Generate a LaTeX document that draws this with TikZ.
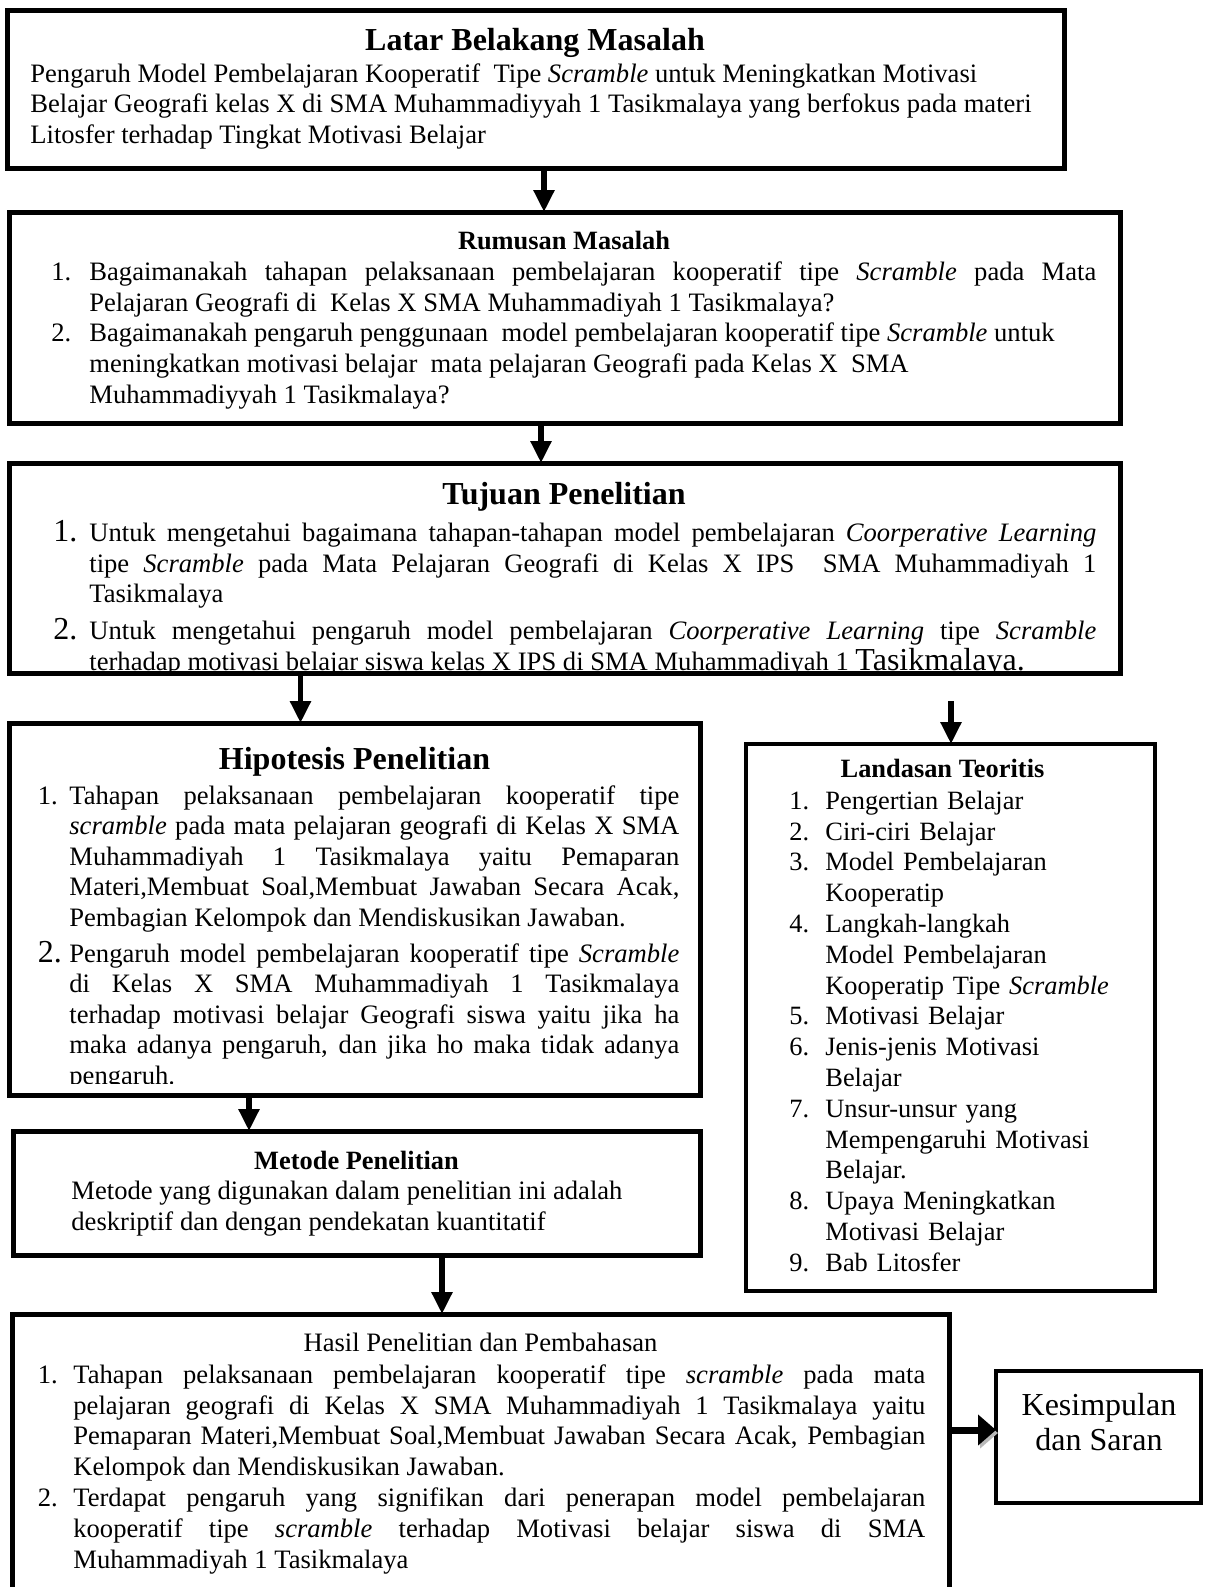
\documentclass[tikz,border=0pt]{standalone}
\usepackage{fontspec}
\setmainfont{Liberation Serif}
\usepackage{enumitem}
\usetikzlibrary{arrows.meta,fit,positioning}
\setlist[enumerate]{label=\arabic*., topsep=0pt, partopsep=0pt, itemsep=0pt, parsep=0pt, align=left, labelsep=0pt}
\newcommand{\bignum}[1]{{\fontsize{16}{15.4}\selectfont #1}}
\tikzset{
	box/.style={draw, line width=2.5pt, fill=white, inner sep=0pt, outer sep=0pt},
	thinbox/.style={box, line width=2pt},
	body/.style={inner sep=0pt, font=\fontsize{13.3}{15.4}\selectfont},
	listbody/.style={body, align=justify, anchor=north west},
	head/.style={inner sep=0pt, font=\fontsize{13.2}{15.4}\selectfont\bfseries},
	bighead/.style={inner sep=0pt, font=\fontsize{16}{18}\selectfont\bfseries},
	flow/.style={line width=2.8pt, -{Triangle[width=10pt,length=11pt]}},
	sideflow/.style={line width=3.5pt, -{Triangle[width=15pt,length=9pt]},
		preaction={draw=gray!55, transform canvas={shift={(1pt,-1.5pt)}}}}
}
\begin{document}
\begin{tikzpicture}[x=0.5pt, y=-0.5pt]
	\useasboundingbox (0,0) rectangle (1205,1587);

	\node[box, fit={(7,10) (1064,168)}] (latar) {};
	\node[box, fit={(9,212) (1120,423)}] (rumusan) {};
	\node[box, fit={(9,463) (1120,673)}] (tujuan) {};
	\node[box, fit={(9,723) (700,1095)}] (hipotesis) {};
	\node[box, fit={(13,1131) (700,1255)}] (metode) {};
	\node[thinbox, fit={(746,744) (1155,1291)}] (landasan) {};
	\node[box, fit={(12,1314) (949,1620)}] (hasil) {};
	\node[thinbox, fit={(996,1371) (1201,1503)}] (kesimpulan) {};

	\node[bighead, anchor=base] (latarhead) at (535,50) {Latar Belakang Masalah};
	\node[body, align=left, anchor=north west] (latartext) at (30,63) {Pengaruh Model Pembelajaran Kooperatif~ Tipe \emph{Scramble} untuk Meningkatkan Motivasi\\
		Belajar Geografi kelas X di SMA Muhammadiyyah 1 Tasikmalaya yang berfokus pada materi\\
		Litosfer terhadap Tingkat Motivasi Belajar};

	\node[head, anchor=base] (rumusanhead) at (564,249) {Rumusan Masalah};
	\node[listbody, text width=522.5pt] (rumusanlist) at (51,249) {%
		\begin{enumerate}[leftmargin=19pt, labelwidth=19pt]
			\item Bagaimanakah tahapan pelaksanaan pembelajaran kooperatif tipe \emph{Scramble} pada Mata\linebreak
			Pelajaran Geografi di~ Kelas X SMA Muhammadiyah 1 Tasikmalaya?
			\item Bagaimanakah pengaruh penggunaan~ model pembelajaran kooperatif tipe \emph{Scramble} untuk\\
			meningkatkan motivasi belajar~ mata pelajaran Geografi pada Kelas X~ SMA\\
			Muhammadiyyah 1 Tasikmalaya?
		\end{enumerate}};

	\node[bighead, anchor=base] (tujuanhead) at (564,504) {Tujuan Penelitian};
	\coordinate (tujuancut) at (0,671);
	\begin{scope}
		\clip (tujuan.north west) rectangle (tujuan.east |- tujuancut);
		\node[listbody, text width=521.5pt] (tujuanlist) at (53,510) {%
			\begin{enumerate}[label=\bignum{\arabic*.}, leftmargin=18pt, labelwidth=18pt, itemsep=3pt]
				\item Untuk mengetahui bagaimana tahapan-tahapan model pembelajaran \emph{Coorperative Learning}\linebreak
				tipe \emph{Scramble} pada Mata Pelajaran Geografi di Kelas X IPS~ SMA Muhammadiyah 1\linebreak
				Tasikmalaya
				\item Untuk mengetahui pengaruh model pembelajaran \emph{Coorperative Learning} tipe \emph{Scramble}\linebreak
				\rule{0pt}{12.1pt}terhadap motivasi belajar siswa kelas X IPS di SMA Muhammadiyah 1 {\fontsize{16}{15.4}\selectfont Tasikmalaya.}
			\end{enumerate}};
	\end{scope}

	\node[bighead, anchor=base] (hipotesishead) at (354.5,769) {Hipotesis Penelitian};
	\coordinate (hipotesiscut) at (0,1083);
	\begin{scope}
		\clip (hipotesis.north west) rectangle (hipotesis.east |- hipotesiscut);
		\node[listbody, font=\fontsize{13.3}{15.3}\selectfont, text width=320.75pt] (hipotesislist) at (37.5,773) {%
			\begin{enumerate}[leftmargin=15.75pt, labelwidth=15.75pt, itemsep=2.5pt]
				\item Tahapan pelaksanaan pembelajaran kooperatif tipe\linebreak
				\emph{scramble} pada mata pelajaran geografi di Kelas X SMA\linebreak
				Muhammadiyah 1 Tasikmalaya yaitu Pemaparan\linebreak
				Materi,Membuat Soal,Membuat Jawaban Secara Acak,\linebreak
				Pembagian Kelompok dan Mendiskusikan Jawaban.
				\item[\bignum{2.}] Pengaruh model pembelajaran kooperatif tipe \emph{Scramble}\linebreak
				di Kelas X SMA Muhammadiyah 1 Tasikmalaya\linebreak
				terhadap motivasi belajar Geografi siswa yaitu jika ha\linebreak
				maka adanya pengaruh, dan jika ho maka tidak adanya\linebreak
				pengaruh.
			\end{enumerate}};
	\end{scope}

	\node[head, anchor=base] (metodehead) at (356.5,1169.5) {Metode Penelitian};
	\node[body, align=left, anchor=north west] (metodetext) at (71,1181) {Metode yang digunakan dalam penelitian ini adalah\\
		deskriptif dan dengan pendekatan kuantitatif};

	\node[head, anchor=base] (landasanhead) at (942.5,777) {Landasan Teoritis};
	\node[body, font=\fontsize{13.2}{15.4}\selectfont, text width=175pt, anchor=north west] (landasanlist) at (789,778) {%
		\begin{enumerate}[leftmargin=18pt, labelwidth=18pt]
			\item Pengertian Belajar
			\item Ciri-ciri Belajar
			\item Model Pembelajaran\\ Kooperatip
			\item Langkah-langkah\\ Model Pembelajaran\\ Kooperatip Tipe \emph{Scramble}
			\item Motivasi Belajar
			\item Jenis-jenis Motivasi\\ Belajar
			\item Unsur-unsur yang\\ Mempengaruhi Motivasi\\ Belajar.
			\item Upaya Meningkatkan\\ Motivasi Belajar
			\item Bab Litosfer
		\end{enumerate}};

	\node[body, anchor=base] (hasilhead) at (480.5,1351) {Hasil Penelitian dan Pembahasan};
	\node[listbody, text width=443.75pt] (hasillist) at (37.5,1352) {%
		\begin{enumerate}[leftmargin=17.75pt, labelwidth=17.75pt]
			\item Tahapan pelaksanaan pembelajaran kooperatif tipe \emph{scramble} pada mata\linebreak
			pelajaran geografi di Kelas X SMA Muhammadiyah 1 Tasikmalaya yaitu\linebreak
			Pemaparan Materi,Membuat Soal,Membuat Jawaban Secara Acak, Pembagian\linebreak
			Kelompok dan Mendiskusikan Jawaban.
			\item Terdapat pengaruh yang signifikan dari penerapan model pembelajaran\linebreak
			kooperatif tipe \emph{scramble} terhadap Motivasi belajar siswa di SMA\linebreak
			Muhammadiyah 1 Tasikmalaya
		\end{enumerate}};

	\node[inner sep=0pt, font=\fontsize{16}{17.5}\selectfont, align=center, anchor=north] (kesimpulantext) at (1099,1393) {Kesimpulan\\ dan Saran};

	\coordinate (a1) at (544,0);
	\coordinate (a2) at (541,0);
	\coordinate (a3) at (300.5,0);
	\coordinate (a4) at (951,701);
	\coordinate (a5) at (249,0);
	\coordinate (a6) at (442,0);
	\coordinate (a7) at (0,1430);
	\draw[flow] (a1 |- latar.south) -- (a1 |- rumusan.north);
	\draw[flow] (a2 |- rumusan.south) -- (a2 |- tujuan.north);
	\draw[flow] (a3 |- tujuan.south) -- (a3 |- hipotesis.north);
	\draw[flow] (a4) -- (a4 |- landasan.north);
	\draw[flow] (a5 |- hipotesis.south) -- (a5 |- metode.north);
	\draw[flow] (a6 |- metode.south) -- (a6 |- hasil.north);
	\draw[sideflow] (hasil.east |- a7) -- (kesimpulan.west |- a7);
\end{tikzpicture}
\end{document}
